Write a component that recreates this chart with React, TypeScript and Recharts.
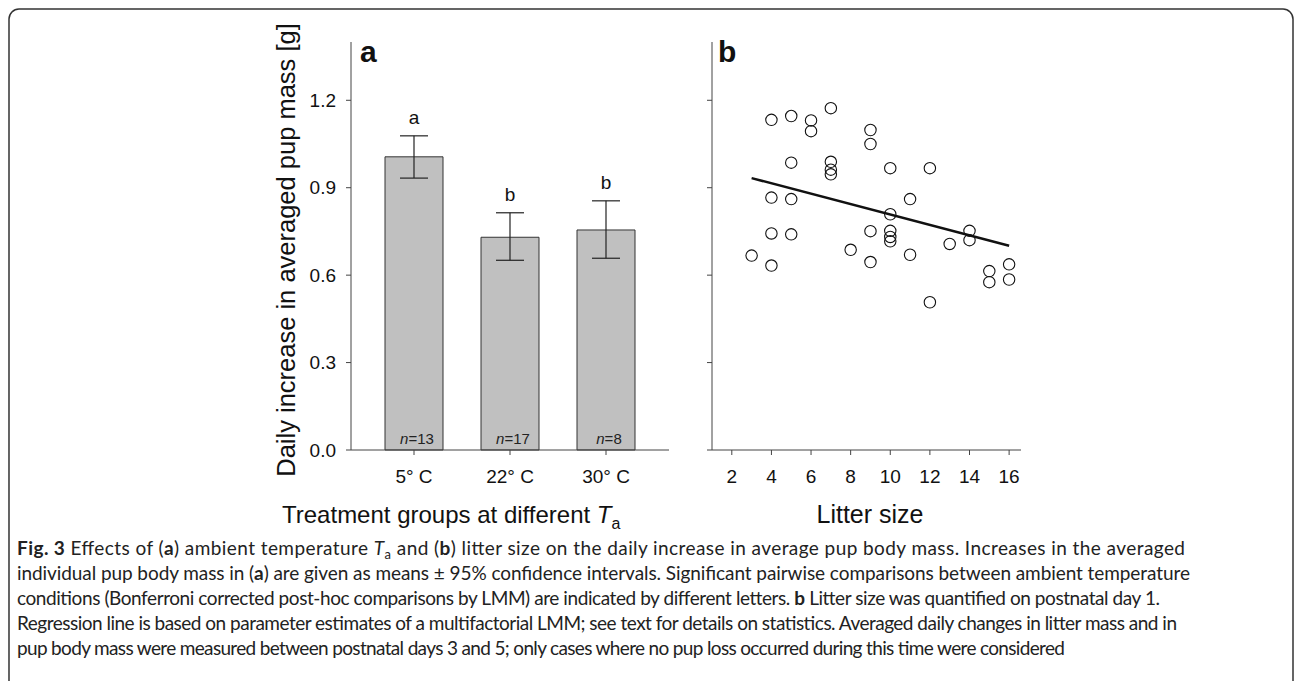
import {
  Bar,
  ComposedChart,
  ErrorBar,
  LabelList,
  Line,
  ReferenceLine,
  Scatter,
  ScatterChart,
  XAxis,
  YAxis,
} from 'recharts'

// panel a: pup mass gain per temperature group
const groups = ['5° C', '22° C', '30° C']
const means = [1.006, 0.73, 0.755]
const ciLow = [0.933, 0.651, 0.658]
const ciHigh = [1.078, 0.814, 0.855]
const groupN = [13, 17, 8]
const sigLetters = ['a', 'b', 'b']
const yTicks = [0, 0.3, 0.6, 0.9, 1.2]

// panel b: litter size vs gain
const litterSize = [3, 4, 4, 4, 4, 5, 5, 5, 5, 6, 6, 7, 7, 7, 7, 8, 9, 9, 9, 9, 10, 10, 10, 10, 10, 11, 11, 12, 12, 13, 14, 14, 15, 15, 16, 16]
const pupGain = [0.667, 1.133, 0.866, 0.743, 0.633, 1.146, 0.986, 0.861, 0.74, 1.131, 1.094, 1.173, 0.989, 0.962, 0.946, 0.687, 1.098, 1.05, 0.751, 0.645, 0.967, 0.809, 0.752, 0.731, 0.716, 0.861, 0.67, 0.967, 0.507, 0.707, 0.752, 0.72, 0.614, 0.576, 0.637, 0.585]
const litterTicks = [2, 4, 6, 8, 10, 12, 14, 16]
const regLitter = [3, 16]
const regGain = [0.933, 0.701]

const barData = groups.map((group, i) => ({
  group,
  mean: means[i],
  err: [means[i] - ciLow[i], ciHigh[i] - means[i]],
  top: ciHigh[i],
  n: groupN[i],
  letter: sigLetters[i],
}))

const scatterData = litterSize.map((x, i) => ({ x, y: pupGain[i] }))

const AXIS = '#444'
const INK = '#111'
const FONT = 'Liberation Sans, Arial, sans-serif'
const tickStyle = { fill: INK, fontSize: 19, fontFamily: FONT }

const NLabel = (props: any) => {
  const { x, y, width, height, value } = props
  return (
    <text x={x + width / 2 + 3} y={y + height - 6} textAnchor="middle" fontSize={15} fontFamily={FONT} fill="#222">
      <tspan fontStyle="italic">n</tspan>={value}
    </text>
  )
}

const OpenCircle = (props: any) => (
  <circle cx={props.cx} cy={props.cy} r={5.7} fill="none" stroke={INK} strokeWidth={1.1} />
)

const captionLines = [
  {
    width: 1168,
    body: (
      <>
        <tspan fontWeight="bold">Fig. 3</tspan> Effects of (<tspan fontWeight="bold">a</tspan>) ambient temperature{' '}
        <tspan fontStyle="italic">T</tspan>
        <tspan fontSize={13} dy={4}>a</tspan>
        <tspan dy={-4}> and (</tspan>
        <tspan fontWeight="bold">b</tspan>) litter size on the daily increase in average pup body mass. Increases in the averaged
      </>
    ),
  },
  {
    width: 1173,
    body: (
      <>
        individual pup body mass in (<tspan fontWeight="bold">a</tspan>) are given as means ± 95% confidence intervals. Significant pairwise comparisons between ambient temperature
      </>
    ),
  },
  {
    width: 1143,
    body: (
      <>
        conditions (Bonferroni corrected post-hoc comparisons by LMM) are indicated by different letters. <tspan fontWeight="bold">b</tspan> Litter size was quantified on postnatal day 1.
      </>
    ),
  },
  {
    width: 1160,
    body: <>Regression line is based on parameter estimates of a multifactorial LMM; see text for details on statistics. Averaged daily changes in litter mass and in</>,
  },
  {
    width: 1048,
    body: <>pup body mass were measured between postnatal days 3 and 5; only cases where no pup loss occurred during this time were considered</>,
  },
]

export default function App() {
  return (
    <div style={{ position: 'absolute', left: 0, top: 0, width: 1295, height: 681, background: '#fff', overflow: 'hidden' }}>
      <div style={{ position: 'absolute', left: 0, top: 0 }}>
        <ComposedChart width={700} height={540} data={barData} margin={{ top: 42, right: 31, bottom: 50, left: 291 }}>
          <XAxis
            dataKey="group"
            type="category"
            padding={{ left: 15, right: 15 }}
            stroke={AXIS}
            tickSize={5}
            tickMargin={15}
            tick={tickStyle}
            height={40}
          />
          <YAxis
            type="number"
            domain={[0, 1.4]}
            ticks={yTicks}
            tickFormatter={(v: number) => v.toFixed(1)}
            stroke={AXIS}
            tickSize={5}
            tickMargin={10}
            tick={tickStyle}
            width={60}
          />
          <Bar dataKey="mean" barSize={58} fill="#c0c0c0" stroke="#333" strokeWidth={1} isAnimationActive={false}>
            <ErrorBar dataKey="err" width={14} stroke="#222" strokeWidth={1.2} direction="y" />
            <LabelList dataKey="n" content={NLabel} />
          </Bar>
          <Line dataKey="top" stroke="none" dot={false} activeDot={false} legendType="none" isAnimationActive={false}>
            <LabelList dataKey="letter" position="top" offset={12} fill={INK} fontSize={19} fontFamily={FONT} />
          </Line>
        </ComposedChart>
      </div>

      <div style={{ position: 'absolute', left: 660, top: 0 }}>
        <ScatterChart width={400} height={540} margin={{ top: 42, right: 39, bottom: 50, left: 12 }}>
          <XAxis
            dataKey="x"
            type="number"
            domain={[1, 16.6]}
            ticks={litterTicks}
            allowDataOverflow
            stroke={AXIS}
            tickSize={5}
            tickMargin={15}
            tick={tickStyle}
            height={40}
          />
          <YAxis
            dataKey="y"
            type="number"
            domain={[0, 1.4]}
            ticks={yTicks}
            tickFormatter={() => ''}
            stroke={AXIS}
            tickSize={5}
            width={40}
          />
          <ReferenceLine
            segment={[
              { x: regLitter[0], y: regGain[0] },
              { x: regLitter[1], y: regGain[1] },
            ]}
            stroke={INK}
            strokeWidth={2.5}
            ifOverflow="visible"
          />
          <Scatter data={scatterData} shape={OpenCircle} isAnimationActive={false} />
        </ScatterChart>
      </div>

      <svg width={1295} height={681} style={{ position: 'absolute', left: 0, top: 0, pointerEvents: 'none' }}>
        <rect x={9} y={9} width={1284} height={700} rx={10} ry={10} fill="none" stroke="#333" strokeWidth={1.5} />

        <text x={360} y={62} fontSize={30} fontWeight="bold" fontFamily={FONT} fill={INK}>a</text>
        <text x={718} y={62} fontSize={30} fontWeight="bold" fontFamily={FONT} fill={INK}>b</text>

        <text
          transform="translate(295,250) rotate(-90)"
          textAnchor="middle"
          fontSize={25.5}
          fontFamily={FONT}
          fill={INK}
        >
          Daily increase in averaged pup mass [g]
        </text>
        <text x={282} y={523} fontSize={24} fontFamily={FONT} fill={INK}>
          Treatment groups at different <tspan fontStyle="italic">T</tspan>
          <tspan fontSize={16} dy={6}>a</tspan>
        </text>
        <text x={870} y={523} textAnchor="middle" fontSize={25} fontFamily={FONT} fill={INK}>
          Litter size
        </text>

        {captionLines.map((line, i) => (
          <text
            key={i}
            x={17}
            y={555 + i * 25}
            fontSize={19}
            fontFamily="Lato, sans-serif"
            fill="#222"
            textLength={line.width}
            lengthAdjust="spacing"
          >
            {line.body}
          </text>
        ))}
      </svg>
    </div>
  )
}
